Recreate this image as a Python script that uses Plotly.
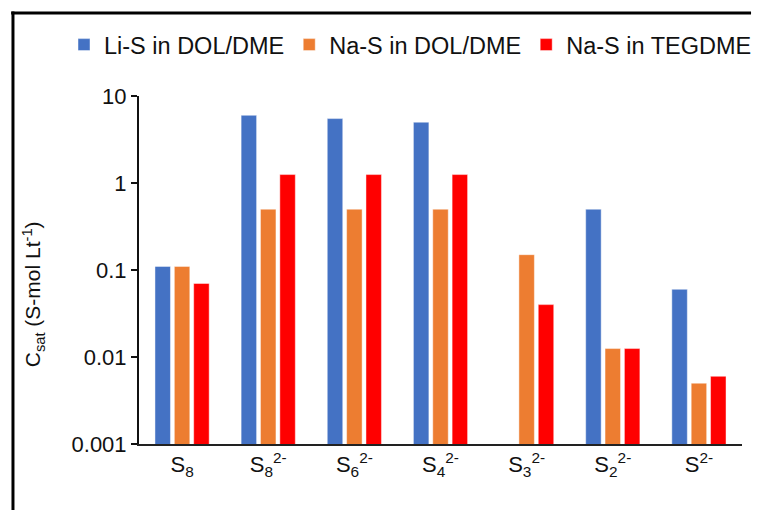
import plotly.graph_objects as go

# Polysulfide species (x categories) and saturation concentrations
species = ["S8", "S8 2-", "S6 2-", "S4 2-", "S3 2-", "S2 2-", "S 2-"]
species_labels = [
    "S<sub>8</sub>",
    "S<sub>8</sub><sup>2-</sup>",
    "S<sub>6</sub><sup>2-</sup>",
    "S<sub>4</sub><sup>2-</sup>",
    "S<sub>3</sub><sup>2-</sup>",
    "S<sub>2</sub><sup>2-</sup>",
    "S<sup>2-</sup>",
]

li_s_dol_dme = [0.11, 6.0, 5.5, 5.0, None, 0.5, 0.06]
na_s_dol_dme = [0.11, 0.5, 0.5, 0.5, 0.15, 0.0125, 0.005]
na_s_tegdme = [0.07, 1.25, 1.25, 1.25, 0.04, 0.0125, 0.006]

series_names = ["Li-S in DOL/DME", "Na-S in DOL/DME", "Na-S in TEGDME"]
series_values = [li_s_dol_dme, na_s_dol_dme, na_s_tegdme]
series_colors = ["#4472C4", "#ED7D31", "#FF0000"]

y_tick_values = [0.001, 0.01, 0.1, 1, 10]
y_tick_labels = ["0.001", "0.01", "0.1", "1", "10"]

FONT = "Arial, Liberation Sans, sans-serif"
TEXT_COLOR = "#111111"

fig = go.Figure()
for name, vals, color in zip(series_names, series_values, series_colors):
    fig.add_trace(
        go.Bar(
            name=name,
            x=species,
            y=vals,
            marker=dict(color=color, line=dict(color="rgba(255,255,255,0.45)", width=1)),
        )
    )

fig.update_layout(
    width=757,
    height=510,
    margin=dict(l=139, r=15, t=96, b=66),
    paper_bgcolor="white",
    plot_bgcolor="white",
    barmode="group",
    bargap=0.326,
    bargroupgap=0.2,
    font=dict(family=FONT, color=TEXT_COLOR, size=20),
    showlegend=True,
    legend=dict(
        orientation="h",
        x=-0.112,
        xanchor="left",
        y=1.147,
        yanchor="middle",
        font=dict(size=23.5, color=TEXT_COLOR),
        bgcolor="rgba(0,0,0,0)",
        itemwidth=30,
    ),
    xaxis=dict(
        type="category",
        tickmode="array",
        tickvals=species,
        ticktext=species_labels,
        showline=True,
        linecolor="#222222",
        linewidth=2,
        ticks="",
        showgrid=False,
        zeroline=False,
        tickfont=dict(size=22, color=TEXT_COLOR),
        fixedrange=True,
    ),
    yaxis=dict(
        type="log",
        range=[-3, 1],
        tickmode="array",
        tickvals=y_tick_values,
        ticktext=y_tick_labels,
        showline=True,
        linecolor="#111111",
        linewidth=2,
        ticks="outside",
        ticklen=6,
        tickwidth=2,
        tickcolor="#111111",
        showgrid=False,
        zeroline=False,
        tickfont=dict(size=22, color=TEXT_COLOR),
        fixedrange=True,
    ),
)

# Y-axis title
fig.add_annotation(
    text="C<sub>sat</sub> (S-mol Lt<sup>-1</sup>)",
    xref="paper",
    yref="paper",
    x=-0.176,
    y=0.43,
    xanchor="center",
    yanchor="middle",
    textangle=-90,
    showarrow=False,
    font=dict(size=21, color=TEXT_COLOR, family=FONT),
)

# Chart frame: top and left edges
frame = dict(color="black", width=3)
fig.add_shape(type="line", xref="paper", yref="paper",
              x0=-0.212, x1=1.015, y0=1.2385, y1=1.2385, line=frame, layer="above")
fig.add_shape(type="line", xref="paper", yref="paper",
              x0=-0.209, x1=-0.209, y0=1.243, y1=-0.3, line=frame, layer="above")

fig.write_html("out.html")
